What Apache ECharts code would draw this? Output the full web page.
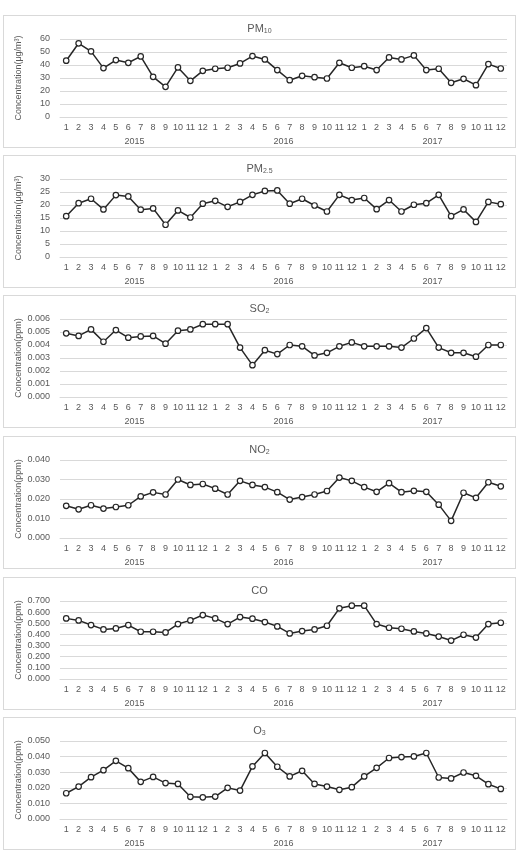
<!DOCTYPE html>
<html>
<head>
<meta charset="utf-8">
<script src="https://cdn.jsdelivr.net/npm/echarts@6/dist/echarts.min.js"></script>
<style>
  body { margin: 0; background: #fff; }
  .panel {
    position: absolute;
    left: 3px;
    width: 511px;
    height: 131px;
    border: 1px solid #d9d9d9;
    background: #fff;
  }
</style>
</head>
<body>
<div class="panel" style="top: 15px" id="pm10"></div>
<div class="panel" style="top: 155px" id="pm25"></div>
<div class="panel" style="top: 295px" id="so2"></div>
<div class="panel" style="top: 436px" id="no2"></div>
<div class="panel" style="top: 577px" id="co"></div>
<div class="panel" style="top: 717px" id="o3"></div>

<script>
const months = ['1', '2', '3', '4', '5', '6', '7', '8', '9', '10', '11', '12',
  '1', '2', '3', '4', '5', '6', '7', '8', '9', '10', '11', '12',
  '1', '2', '3', '4', '5', '6', '7', '8', '9', '10', '11', '12']
const years = ['2015', '2016', '2017']

const pm10 = [43.3, 56.7, 50.5, 37.6, 43.8, 41.7, 46.6, 30.9, 23.2, 38.1, 27.8, 35.5,
  37.1, 37.9, 41.2, 46.9, 44.3, 36.1, 28.3, 31.7, 30.6, 29.6, 41.7, 37.9,
  39.1, 36.1, 45.8, 44.3, 47.4, 36.1, 37.1, 26.3, 29.4, 24.5, 40.7, 37.3]
const pm25 = [15.7, 20.7, 22.4, 18.3, 23.8, 23.3, 18.2, 18.7, 12.4, 17.9, 15.2, 20.5,
  21.6, 19.3, 21.2, 23.9, 25.4, 25.6, 20.5, 22.4, 19.8, 17.5, 23.9, 21.9,
  22.7, 18.4, 21.9, 17.5, 20.1, 20.7, 23.9, 15.7, 18.3, 13.5, 21.2, 20.3]
const so2 = [0.0049, 0.0047, 0.0052, 0.00425, 0.00515, 0.00456, 0.00466, 0.0047, 0.0041, 0.0051, 0.0052, 0.0056,
  0.0056, 0.0056, 0.0038, 0.00245, 0.0036, 0.0033, 0.0040, 0.0039, 0.0032, 0.0034, 0.0039, 0.0042,
  0.0039, 0.0039, 0.0039, 0.0038, 0.0045, 0.0053, 0.0038, 0.0034, 0.0034, 0.0031, 0.0040, 0.0040]
const no2 = [0.0165, 0.0147, 0.0168, 0.0151, 0.0159, 0.0168, 0.0213, 0.0234, 0.0223, 0.0300, 0.0272, 0.0277,
  0.0253, 0.0223, 0.0293, 0.0272, 0.0261, 0.0235, 0.0197, 0.0210, 0.0223, 0.0241, 0.0310, 0.0293,
  0.0261, 0.0237, 0.0281, 0.0235, 0.0242, 0.0237, 0.0171, 0.0088, 0.0232, 0.0206, 0.0286, 0.0265]
const co = [0.544, 0.526, 0.484, 0.445, 0.454, 0.484, 0.424, 0.424, 0.418, 0.493, 0.526, 0.574,
  0.544, 0.493, 0.556, 0.541, 0.511, 0.472, 0.409, 0.430, 0.445, 0.478, 0.634, 0.658,
  0.658, 0.493, 0.460, 0.451, 0.427, 0.409, 0.381, 0.345, 0.397, 0.372, 0.493, 0.505]
const o3 = [0.0165, 0.0208, 0.0268, 0.0313, 0.0373, 0.0326, 0.0238, 0.0270, 0.0230, 0.0225, 0.0142, 0.0139,
  0.0144, 0.0200, 0.0182, 0.0337, 0.0423, 0.0335, 0.0273, 0.0309, 0.0225, 0.0208, 0.0187, 0.0204,
  0.0273, 0.0328, 0.0391, 0.0397, 0.0401, 0.0423, 0.0266, 0.0260, 0.0298, 0.0277, 0.0223, 0.0193]

const textColor = '#595959'
const gridColor = '#d9d9d9'
const fontFamily = 'Liberation Sans, Arial, sans-serif'

function draw (id, name, sub, unit, data, max, interval, digits) {
  echarts.init(document.getElementById(id)).setOption({
    animation: false,
    textStyle: { fontFamily: fontFamily },
    title: {
      text: sub ? '{a|' + name + '}{b|' + sub + '}' : '{a|' + name + '}',
      left: 'center',
      top: 2,
      textStyle: {
        fontWeight: 'normal',
        rich: {
          a: { fontSize: 11, color: textColor, fontFamily: fontFamily, fontWeight: 'normal' },
          b: { fontSize: 7, color: textColor, fontFamily: fontFamily, fontWeight: 'normal', verticalAlign: 'bottom', padding: [5, 0, 0, 0] }
        }
      }
    },
    grid: { left: 56, right: 8, top: 23, height: 78 },
    xAxis: [
      {
        type: 'category',
        data: months,
        axisTick: { show: false },
        axisLine: { lineStyle: { color: gridColor } },
        axisLabel: { color: textColor, fontSize: 9, margin: 6, interval: 0 }
      },
      {
        type: 'category',
        data: years,
        position: 'bottom',
        offset: 14,
        axisTick: { show: false },
        axisLine: { show: false },
        axisLabel: { color: textColor, fontSize: 9, margin: 6 }
      }
    ],
    yAxis: {
      type: 'value',
      min: 0,
      max: max,
      interval: interval,
      name: unit,
      nameLocation: 'middle',
      nameGap: 37,
      nameMoveOverlap: false,
      nameTextStyle: { color: textColor, fontSize: 9 },
      axisLine: { show: false },
      axisTick: { show: false },
      splitLine: { lineStyle: { color: gridColor } },
      axisLabel: {
        color: textColor,
        fontSize: 9,
        margin: 10,
        formatter: (v) => v.toFixed(digits)
      }
    },
    series: [
      {
        type: 'line',
        xAxisIndex: 0,
        data: data,
        symbol: 'circle',
        symbolSize: 5.5,
        lineStyle: { color: '#262626', width: 1.5 },
        itemStyle: { color: '#fff', borderColor: '#262626', borderWidth: 1.2 }
      }
    ]
  })
}

draw('pm10', 'PM', '10', 'Concentration(μg/m³)', pm10, 60, 10, 0)
draw('pm25', 'PM', '2.5', 'Concentration(μg/m³)', pm25, 30, 5, 0)
draw('so2', 'SO', '2', 'Concentration(ppm)', so2, 0.006, 0.001, 3)
draw('no2', 'NO', '2', 'Concentration(ppm)', no2, 0.04, 0.01, 3)
draw('co', 'CO', '', 'Concentration(ppm)', co, 0.7, 0.1, 3)
draw('o3', 'O', '3', 'Concentration(ppm)', o3, 0.05, 0.01, 3)
</script>
</body>
</html>
